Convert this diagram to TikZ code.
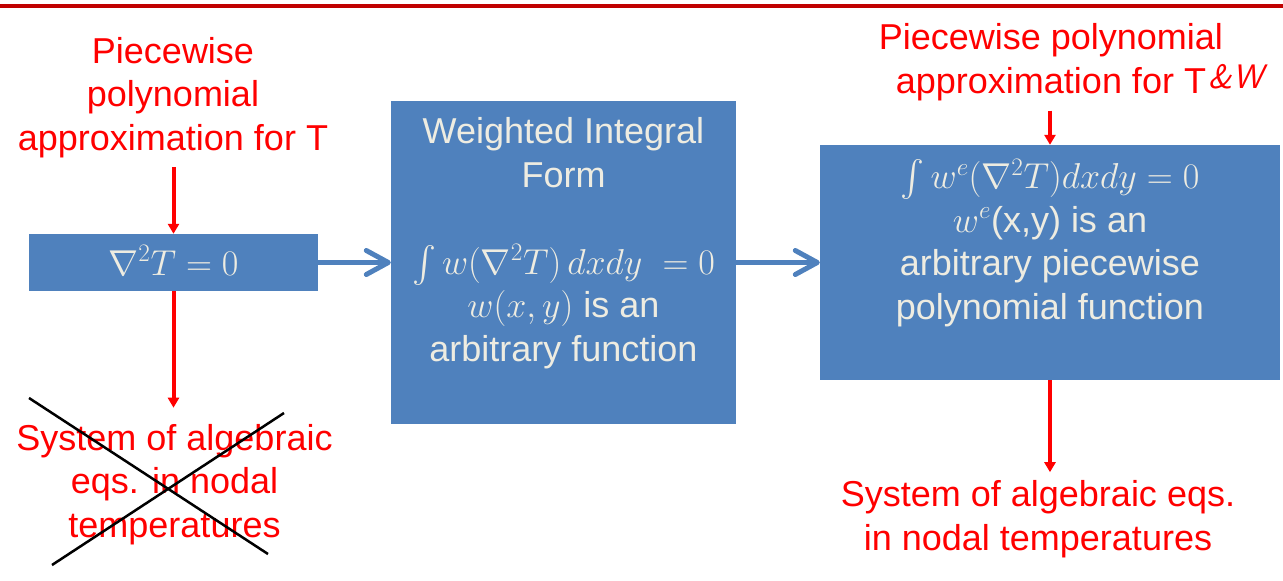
\documentclass[tikz,border=0pt]{standalone}
\usepackage{fix-cm}
\usepackage{fontspec}
\newfontfamily\arial{Liberation Sans}
\usetikzlibrary{arrows.meta}
\DeclareFontShape{OMX}{cmex}{m}{n}{<-> cmex10}{}
\definecolor{boxblue}{RGB}{79,129,189}
\definecolor{boxink}{RGB}{238,236,225}
\definecolor{rulered}{RGB}{192,0,0}

\begin{document}
\begin{tikzpicture}[x=1pt,y=-1pt]
\def\bigfont{\fontsize{36}{43.5}\selectfont\arial}
\tikzset{
    block/.style={fill=boxblue, inner sep=0pt},
    blocktext/.style={text=boxink, font=\bigfont, align=center, inner sep=0pt, anchor=base},
    note/.style={text=red, font=\bigfont, align=center, inner sep=0pt, anchor=base},
    scrawl/.style={text=red, font=\fontsize{34}{40}\selectfont\sffamily\itshape, inner sep=0pt, anchor=base},
    redarrow/.style={line width=4pt, color=red, -{Triangle[width=11pt,length=10pt]}},
    bluearrow/.style={line width=5pt, color=boxblue, -{Straight Barb[width=24pt,length=22pt,line cap=round,line join=round]}},
    strike/.style={line width=2.5pt, color=black}}

\useasboundingbox (0,0) rectangle (1283,581);
\draw[line width=4pt, rulered] (0,6) -- (1283,6);

% the three blocks
\node[block, minimum width=289pt, minimum height=57pt] (eqnbox) at (173.5,262.5) {};
\node[block, minimum width=345pt, minimum height=323pt] (formbox) at (563.5,262.5) {};
\node[block, minimum width=460pt, minimum height=235pt] (pwbox) at (1050,262.5) {};

% base = last line
\node[blocktext] (eqntext) at (173.5,275) {$\nabla^2T=0$};
\node[blocktext] (formtext) at (563.5,361) {Weighted Integral\\Form\\[43.5pt]
    $\int w(\nabla^2T)\,dxdy\ =0$\\$w(x,y)$ is an\\arbitrary function};
\node[blocktext] (pwtext) at (1050,319) {$\int w^e(\nabla^2T)dxdy=0$\\$w^e$(x,y) is an\\
    arbitrary piecewise\\polynomial function};

% notes
\node[note] (leftnote) at (173,150) {Piecewise\\polynomial\\approximation for T};
\node[note] (rightnote) at (1051,93) {Piecewise polynomial\\approximation for T\hspace{10pt}};
\node[scrawl] (tw) at (1236,88) {\&W};
\node[note] (deadnote) at (174.5,537) {System of algebraic\\eqs. in nodal\\temperatures};
\node[note] (resultnote) at (1038,550) {System of algebraic eqs.\\in nodal temperatures};

\draw[bluearrow] (eqnbox.east) -- (formbox.west);
\draw[bluearrow] (formbox.east) -- (pwbox.west);

\draw[redarrow, shorten <=9.5pt] (eqnbox.north |- leftnote.south) -- (eqnbox.north);
\draw[redarrow, shorten >=16pt] (eqnbox.south) -- (eqnbox.south |- deadnote.north);
\draw[redarrow, shorten <=10pt] (pwbox.north |- rightnote.south) -- (pwbox.north);
\draw[redarrow, shorten >=8pt] (pwbox.south) -- (pwbox.south |- resultnote.north);

% crossed out
\path (29,398)coordinate(XA) (268,554)coordinate(XB) (52,565)coordinate(XC) (284,413)coordinate(XD);
\draw[strike] (XA) -- (XB);
\draw[strike] (XC) -- (XD);

\end{tikzpicture}
\end{document}
